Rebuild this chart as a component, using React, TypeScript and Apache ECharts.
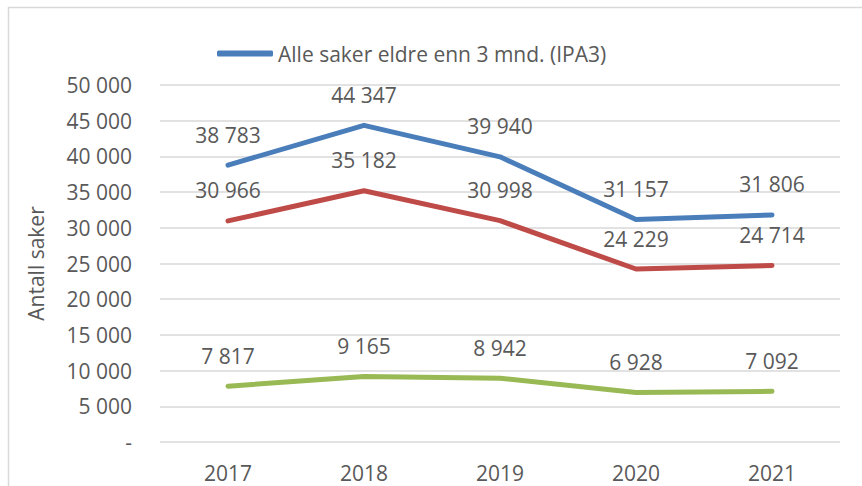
import React, { useEffect, useRef } from "react";
import * as echarts from "echarts";

const years = ["2017", "2018", "2019", "2020", "2021"];
const seriesBlueName = "Alle saker eldre enn 3 mnd. (IPA3)";
const blueValues = [38783, 44347, 39940, 31157, 31806];
const redValues = [30966, 35182, 30998, 24229, 24714];
const greenValues = [7817, 9165, 8942, 6928, 7092];
const yAxisName = "Antall saker";

const FONT = "'Open Sans', 'Noto Sans', sans-serif";
const TEXT = "#595959";

function fmt(v: number): string {
  if (v === 0) return "-";
  return String(Math.round(v)).replace(/\B(?=(\d{3})+(?!\d))/g, " ");
}

function lineSeries(name: string, data: number[], color: string) {
  return {
    name,
    type: "line",
    data,
    symbol: "circle",
    symbolSize: 0,
    showSymbol: true,
    smooth: false,
    lineStyle: { color, width: 5, cap: "round", join: "round" },
    itemStyle: { color },
    label: {
      show: true,
      position: "top",
      distance: 20,
      color: TEXT,
      fontFamily: FONT,
      fontSize: 21,
      formatter: (p: any) => fmt(p.value),
    },
  };
}

export default function App() {
  const ref = useRef<HTMLDivElement>(null);
  useEffect(() => {
    if (!ref.current) return;
    const chart = echarts.init(ref.current, undefined, { renderer: "svg" });
    chart.setOption({
      animation: false,
      backgroundColor: "#ffffff",
      graphic: [
        {
          type: "rect",
          shape: { x: 8.5, y: 7.5, width: 900, height: 600 },
          style: { fill: "none", stroke: "#d9d9d9", lineWidth: 1.5 },
          silent: true,
        },
      ],
      legend: {
        data: [seriesBlueName],
        left: 212,
        top: 38,
        icon: "roundRect",
        itemWidth: 56,
        itemHeight: 6,
        textStyle: { color: TEXT, fontFamily: FONT, fontSize: 21 },
      },
      grid: { left: 160, right: 22, top: 85, bottom: 44, containLabel: false },
      xAxis: {
        type: "category",
        data: years,
        boundaryGap: true,
        axisLine: { show: false },
        axisTick: { show: false },
        axisLabel: {
          color: TEXT,
          fontFamily: FONT,
          fontSize: 21,
          lineHeight: 20,
          margin: 21,
        },
      },
      yAxis: {
        type: "value",
        min: 0,
        max: 50000,
        interval: 5000,
        name: yAxisName,
        nameLocation: "middle",
        nameGap: 114,
        nameRotate: 90,
        nameTextStyle: { color: TEXT, fontFamily: FONT, fontSize: 21 },
        axisLine: { show: false },
        axisTick: { show: false },
        axisLabel: {
          color: TEXT,
          fontFamily: FONT,
          fontSize: 21,
          margin: 28,
          formatter: (v: number) => fmt(v),
        },
        splitLine: { lineStyle: { color: "#d9d9d9", width: 1.5 } },
      },
      series: [
        lineSeries(seriesBlueName, blueValues, "#4a7ebb"),
        lineSeries("Red", redValues, "#be4b48"),
        lineSeries("Green", greenValues, "#98b954"),
      ],
    });
    return () => chart.dispose();
  }, []);
  return (
    <div
      ref={ref}
      style={{ position: "absolute", left: 0, top: 0, width: 862, height: 486 }}
    />
  );
}
